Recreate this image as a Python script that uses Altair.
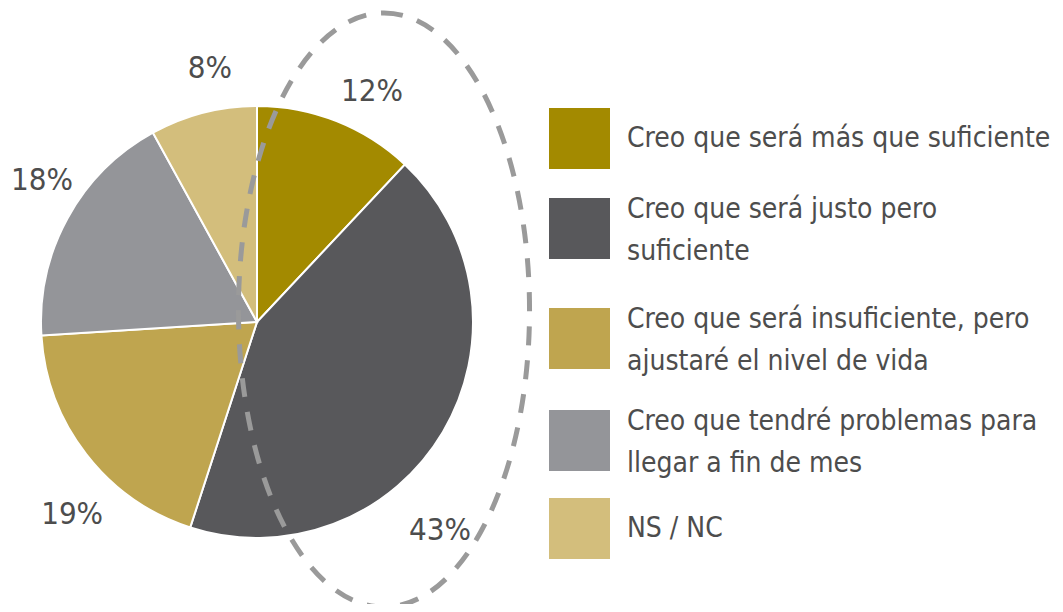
import altair as alt
import pandas as pd

categories = [
    "Creo que será más que suficiente",
    "Creo que será justo pero\nsuficiente",
    "Creo que será insuficiente,  pero\najustaré el nivel de vida",
    "Creo que tendré problemas para\nllegar a fin de mes",
    "NS / NC",
]
values = [12, 43, 19, 18, 8]
labels = ["12%", "43%", "19%", "18%", "8%"]
colors = ["#A38A00", "#58585B", "#BFA54F", "#949599", "#D3BE7C"]

df = pd.DataFrame({"cat": categories, "value": values, "label": labels, "idx": list(range(5))})

FONT = "'DejaVu Sans Condensed', 'Liberation Sans Narrow', sans-serif"
TXT = "#4d4d4d"
CX, CY = 249, 314

color = alt.Color("cat:N", scale=alt.Scale(domain=categories, range=colors), legend=None)
theta_scale = alt.Scale(domain=[0, 100])

arc = alt.Chart(df).mark_arc(outerRadius=216, stroke="white", strokeWidth=2).encode(
    theta=alt.Theta("value:Q", stack=True, scale=theta_scale),
    color=color,
    order=alt.Order("idx:Q"),
    x=alt.value(CX),
    y=alt.value(CY),
)

base_txt = alt.Chart(df).transform_window(
    cum="sum(value)", sort=[alt.SortField("idx")], frame=[None, 0]
).transform_calculate(mid="datum.cum - datum.value / 2")

nudges = [(20, 10), (-39, 78), (19, 35), (11, -17), (17, -3)]
texts = []
for i, (ddx, ddy) in enumerate(nudges):
    texts.append(
        base_txt.transform_filter(alt.datum.idx == i)
        .mark_text(radius=258, dx=ddx, dy=ddy, fontSize=31, font=FONT, color=TXT,
                   align="center", baseline="middle")
        .encode(theta=alt.Theta("mid:Q", scale=theta_scale), text="label:N",
                x=alt.value(CX), y=alt.value(CY))
    )

# legend rows (irregular spacing as in the original layout)
yscale = alt.Scale(domain=[0, 1, 2, 3, 4], range=[130.5, 220.5, 330.5, 432.5, 520.5])

leg_sq = alt.Chart(df).mark_square(size=3721, opacity=1, filled=True, strokeWidth=0).encode(
    x=alt.value(571.5),
    y=alt.Y("idx:Q", scale=yscale, axis=None),
    color=color,
)

def leg_text(filt, dy):
    return alt.Chart(df).transform_filter(filt).mark_text(
        align="left", baseline="middle", lineBreak="\n", lineHeight=42,
        fontSize=28, font=FONT, color=TXT, dy=dy,
    ).encode(
        x=alt.value(619),
        y=alt.Y("idx:Q", scale=yscale, axis=None),
        text="cat:N",
    )

leg_txt_single = leg_text("indexof(datum.cat, '\\n') < 0", 0)
leg_txt_multi = leg_text("indexof(datum.cat, '\\n') >= 0", -19)

ell = alt.Chart(pd.DataFrame({"k": [0]})).mark_point(
    shape="M0,-1A0.49,1,0,1,1,0,1A0.49,1,0,1,1,0,-1Z",
    size=594 ** 2, filled=False, stroke="#9a9a9a", strokeWidth=5,
    strokeDash=[19, 15], opacity=1,
).encode(x=alt.value(376), y=alt.value(302))

chart = alt.layer(arc, *texts, leg_sq, leg_txt_single, leg_txt_multi, ell).properties(
    width=1047, height=596, padding=0, autosize="none"
).configure_view(stroke=None)

chart.save("out.html", embed_options={"renderer": "svg", "actions": False})
